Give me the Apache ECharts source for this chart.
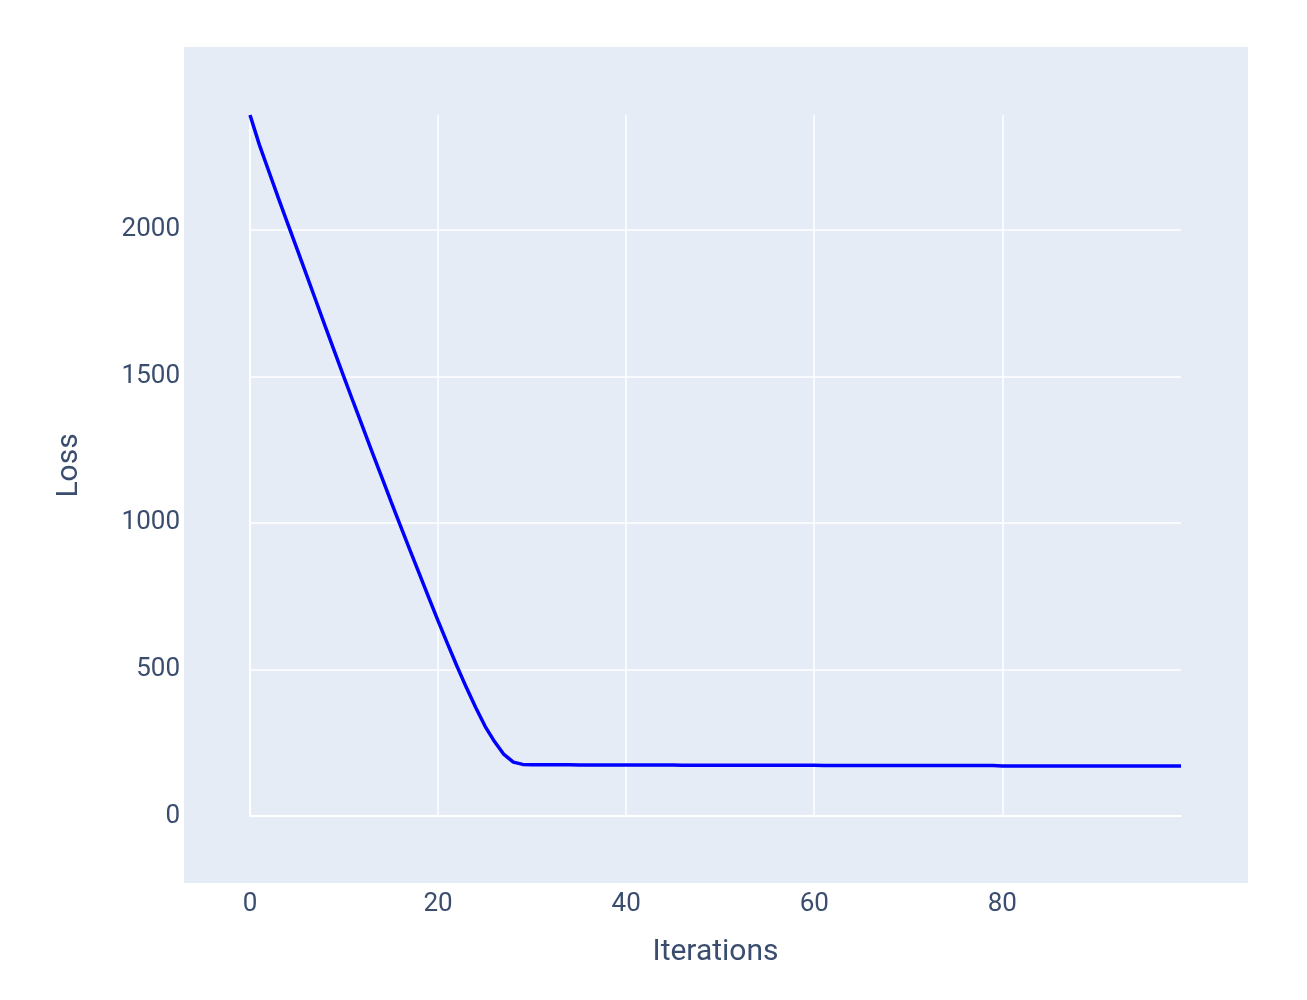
<!DOCTYPE html>
<html>
<head>
<meta charset="utf-8">
<script src="https://cdn.jsdelivr.net/npm/echarts@6/dist/echarts.min.js"></script>
<style>html,body{margin:0;padding:0;background:#fff}#c{width:1307px;height:1000px}</style>
</head>
<body>
<div id="c"></div>
<script>
const iterations = Array.from({length: 100}, (_, i) => i);
const loss = [
  2392, 2290, 2200, 2110, 2022, 1935, 1847, 1759, 1671, 1584,
  1497, 1411, 1326, 1241, 1157, 1073, 990, 908, 827, 746,
  666, 588, 512, 439, 370, 306, 254, 210, 184, 176,
  175, 175, 175, 175, 175, 174, 174, 174, 174, 174,
  174, 174, 174, 174, 174, 174, 173, 173, 173, 173,
  173, 173, 173, 173, 173, 173, 173, 173, 173, 173,
  173, 172, 172, 172, 172, 172, 172, 172, 172, 172,
  172, 172, 172, 172, 172, 172, 172, 172, 172, 172,
  171, 171, 171, 171, 171, 171, 171, 171, 171, 171,
  171, 171, 171, 171, 171, 171, 171, 171, 171, 171
];
const xTicks = [0, 20, 40, 60, 80];
const yTicks = [0, 500, 1000, 1500, 2000];
const xTitle = 'Iterations';
const yTitle = 'Loss';

const textColor = '#3a4d6e';
const font = 'Roboto, "Open Sans", sans-serif';
const chart = echarts.init(document.getElementById('c'), null, {renderer: 'canvas'});
chart.setOption({
  animation: false,
  backgroundColor: '#ffffff',
  graphic: {
    elements: [{
      type: 'rect', z: -100, silent: true,
      shape: {x: 184, y: 47, width: 1064, height: 836},
      style: {fill: '#e5ecf6'}
    }]
  },
  grid: {left: 250, right: 126, top: 115, bottom: 184, containLabel: false},
  xAxis: {
    type: 'value', min: 0, max: 99, interval: 20,
    name: xTitle, nameLocation: 'middle', nameGap: 121,
    nameTextStyle: {color: textColor, fontSize: 30, fontFamily: font},
    axisLine: {show: true, onZero: false, lineStyle: {color: '#ffffff', width: 2}},
    axisTick: {show: false},
    axisLabel: {
      color: textColor, fontSize: 26, fontFamily: font, margin: 75,
      showMaxLabel: false,
      formatter: v => xTicks.includes(v) ? String(v) : ''
    },
    splitLine: {show: true, showMinLine: false, showMaxLine: false, lineStyle: {color: '#ffffff', width: 1.5}}
  },
  yAxis: {
    type: 'value', min: 0, max: 2392, interval: 500,
    name: yTitle, nameLocation: 'middle', nameGap: 166,
    nameTextStyle: {color: textColor, fontSize: 30, fontFamily: font},
    axisLine: {show: true, onZero: false, lineStyle: {color: '#ffffff', width: 2}},
    axisTick: {show: false},
    axisLabel: {
      color: textColor, fontSize: 26, fontFamily: font, margin: 70,
      showMaxLabel: false,
      formatter: v => yTicks.includes(v) ? String(v) : ''
    },
    splitLine: {show: true, showMinLine: false, showMaxLine: false, lineStyle: {color: '#ffffff', width: 1.5}}
  },
  series: [{
    type: 'line',
    data: iterations.map((x, i) => [x, loss[i]]),
    showSymbol: false,
    symbol: 'none',
    lineStyle: {color: '#0000ff', width: 3.5},
    z: 5
  }]
});
</script>
</body>
</html>
